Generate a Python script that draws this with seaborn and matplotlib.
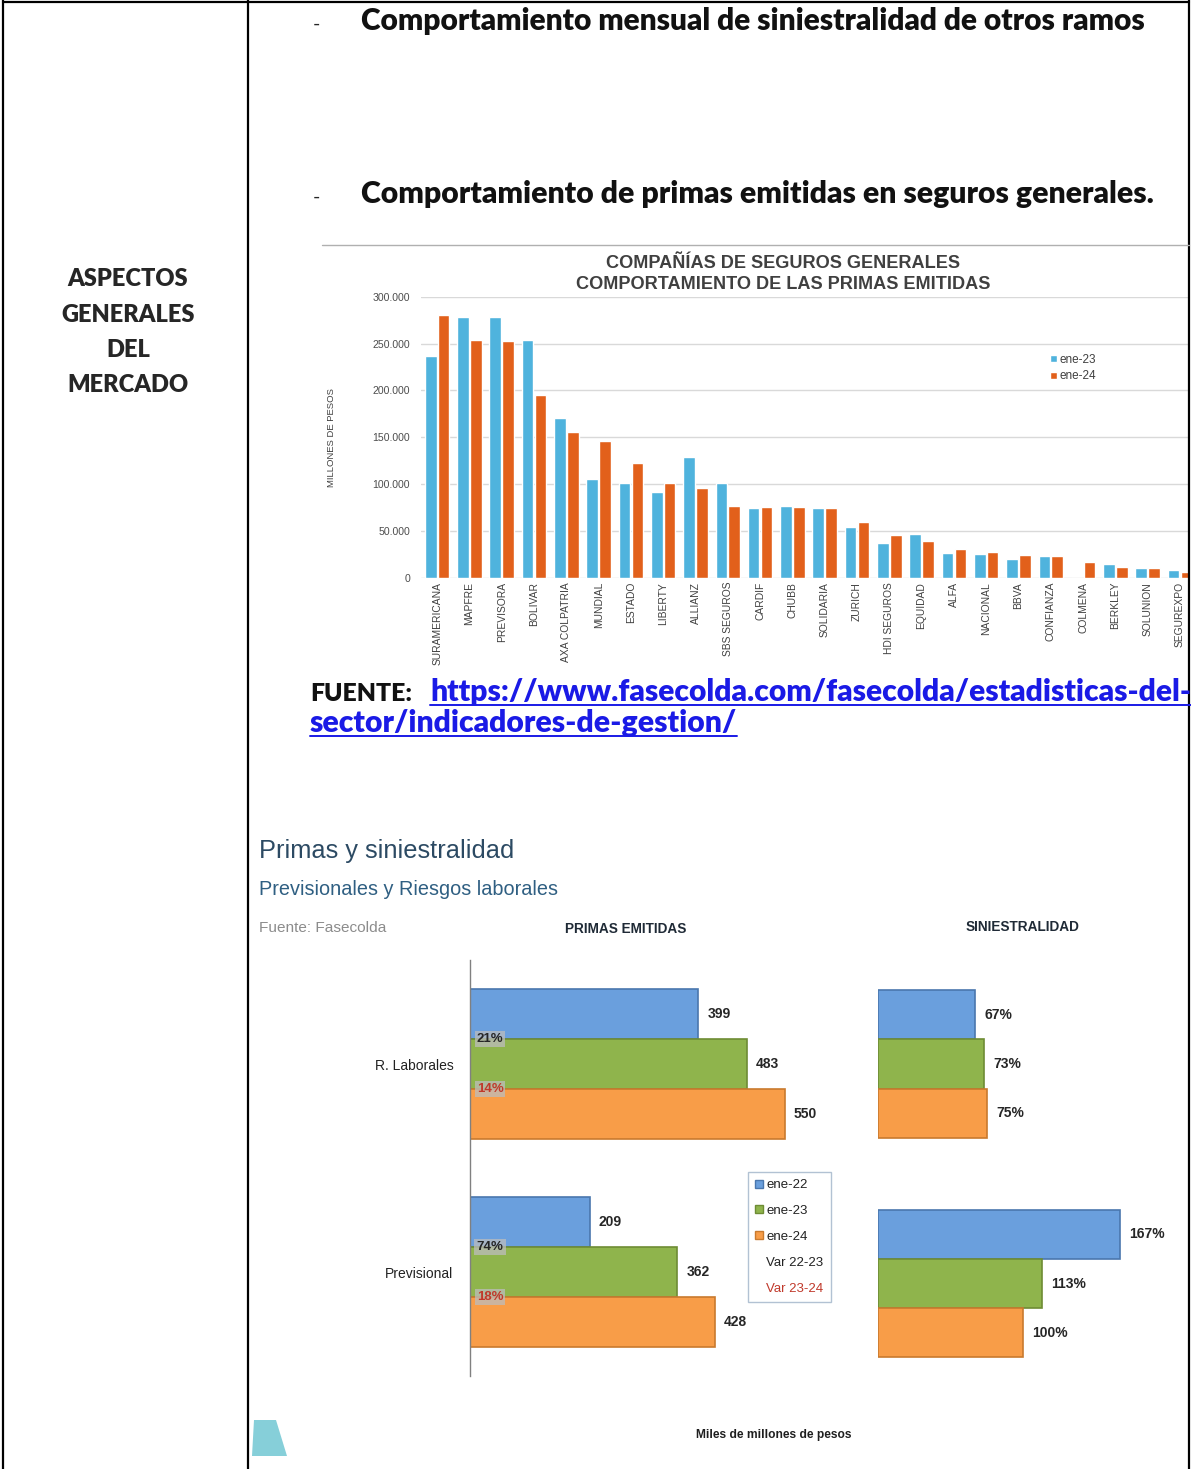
import numpy as np
import pandas as pd
import matplotlib
import matplotlib.pyplot as plt
import seaborn as sns
from matplotlib import font_manager as fm
from matplotlib.lines import Line2D
from matplotlib.patches import Patch, Polygon

W, H = 1191, 1469

# datos grafico 1: primas emitidas seguros generales (millones de pesos)
companias = ['SURAMERICANA', 'MAPFRE', 'PREVISORA', 'BOLIVAR', 'AXA COLPATRIA',
             'MUNDIAL', 'ESTADO', 'LIBERTY', 'ALLIANZ', 'SBS SEGUROS', 'CARDIF',
             'CHUBB', 'SOLIDARIA', 'ZURICH', 'HDI SEGUROS', 'EQUIDAD', 'ALFA',
             'NACIONAL', 'BBVA', 'CONFIANZA', 'COLMENA', 'BERKLEY', 'SOLUNION',
             'SEGUREXPO']
primas_ene23 = [236700, 278600, 278600, 253700, 171000, 105000, 100700, 91500,
                128800, 100700, 74700, 76500, 74700, 53700, 36700, 46300, 26700,
                25000, 20000, 23500, 0, 15000, 10700, 8200]
primas_ene24 = [280000, 254000, 252700, 195000, 156000, 146000, 122800, 100700,
                95400, 76500, 75800, 75800, 74700, 59800, 45600, 39000, 30600,
                27400, 23800, 23500, 16400, 11700, 10000, 5700]

# datos grafico 2: previsionales y riesgos laborales
ramos = ['R. Laborales', 'Previsional']
periodos = ['ene-22', 'ene-23', 'ene-24']
primas_ene22_prev = [399, 209]
primas_ene23_prev = [483, 362]
primas_ene24_prev = [550, 428]
sini_ene22 = [67, 167]
sini_ene23 = [73, 113]
sini_ene24 = [75, 100]
var_22_23 = [21, 74]
var_23_24 = [14, 18]

sns.set_style('white')
nombres = {f.name for f in fm.fontManager.ttflist}
NARROW = 'Liberation Sans Narrow' if 'Liberation Sans Narrow' in nombres else 'Liberation Sans'
DOC = 'Lato' if 'Lato' in nombres else 'DejaVu Sans'
plt.rcParams['font.family'] = ['Liberation Sans', 'DejaVu Sans']

fig = plt.figure(figsize=(W / 100, H / 100), dpi=100)
renderer = fig.canvas.get_renderer()


def px_axes(x0, y0, x1, y1):
    return fig.add_axes([x0 / W, 1 - y1 / H, (x1 - x0) / W, (y1 - y0) / H])


def put(x, y, s, width=None, **kw):
    kw.setdefault('va', 'baseline')
    t = fig.text(x / W, 1 - y / H, s, **kw)
    if width:
        w = t.get_window_extent(renderer).width
        t.set_fontsize(t.get_fontsize() * width / w)
    return t


def hline(x0, x1, y, **kw):
    fig.add_artist(Line2D([x0 / W, x1 / W], [1 - y / H, 1 - y / H], **kw))


def vline(x, y0, y1, **kw):
    fig.add_artist(Line2D([x / W, x / W], [1 - y0 / H, 1 - y1 / H], **kw))


# bordes de la tabla
vline(3, 0, H, color='black', lw=1.6)
vline(248, 0, H, color='black', lw=1.6)
vline(1189, 0, H, color='black', lw=1.6)
hline(3, 1189, 2, color='black', lw=1.6)

# columna izquierda
fs_col = None
for txt, yb in zip(['GENERALES', 'ASPECTOS', 'DEL', 'MERCADO'], [322, 286, 357, 392]):
    if fs_col is None:
        t = put(128, yb, txt, width=134, fontsize=16, family=DOC, weight='heavy', ha='center')
        fs_col = t.get_fontsize()
    else:
        put(128, yb, txt, fontsize=fs_col, family=DOC, weight='heavy', ha='center')

# encabezados
put(313, 30, '-', fontsize=14, family=DOC)
put(361, 30, 'Comportamiento mensual de siniestralidad de otros ramos', width=782,
    fontsize=18, family=DOC, weight='heavy', color='#111111')
put(313, 203, '-', fontsize=14, family=DOC)
put(361, 203, 'Comportamiento de primas emitidas en seguros generales.', width=792,
    fontsize=18, family=DOC, weight='heavy', color='#111111')

# grafico 1
hline(322, 1189, 245, color='#B0B0B0', lw=1)
put(783, 268, 'COMPAÑÍAS DE SEGUROS GENERALES', width=353, fontsize=12,
    family='Liberation Sans', weight='bold', color='#404040', ha='center')
put(783, 289, 'COMPORTAMIENTO DE LAS PRIMAS EMITIDAS', width=413, fontsize=12,
    family='Liberation Sans', weight='bold', color='#404040', ha='center')

df1 = pd.DataFrame({
    'compania': companias * 2,
    'valor': primas_ene23 + primas_ene24,
    'periodo': ['ene-23'] * len(companias) + ['ene-24'] * len(companias),
})
ax1 = px_axes(421, 296.7, 1189, 577.7)
sns.barplot(data=df1, x='compania', y='valor', hue='periodo', ax=ax1,
            palette=['#4FB3DD', '#E2601B'], width=0.8, gap=0.1, saturation=1)
ax1.set_ylim(0, 300000)
ax1.set_xlim(-0.5, 23.28)
ax1.set_yticks(np.arange(0, 300001, 50000))
ax1.set_yticklabels([f'{int(v):,}'.replace(',', '.') for v in np.arange(0, 300001, 50000)],
                    fontsize=7.6, color='#4D4D4D')
ax1.tick_params(axis='x', labelrotation=90, labelsize=7.4, labelcolor='#404040', pad=3, length=0)
ax1.tick_params(axis='y', length=0, pad=8)
ax1.grid(axis='y', color='#D9D9D9', lw=1)
ax1.set_axisbelow(True)
for s in ax1.spines.values():
    s.set_visible(False)
ax1.set_xlabel('')
ax1.set_ylabel('MILLONES DE PESOS', fontsize=6.8, color='#404040', labelpad=26)
ax1.legend(loc='upper left', bbox_to_anchor=(1045 / W, 1 - 349 / H),
           bbox_transform=fig.transFigure, frameon=False, fontsize=8.5,
           handlelength=0.6, handleheight=0.6, handletextpad=0.2,
           labelspacing=0.4, borderaxespad=0, labelcolor='#404040')

# FUENTE
put(310, 701, 'FUENTE:', width=102, fontsize=16, family=DOC, weight='heavy', color='#111111')
enlaces = [(430, 701, 'https://www.fasecolda.com/fasecolda/estadisticas-del-', 760),
           (310, 732, 'sector/indicadores-de-gestion/', 426)]
for x, y, s, w in enlaces:
    t = put(x, y, s, width=w, fontsize=16, family=DOC, weight='heavy', color='#1A1AE6')
    bb = t.get_window_extent(renderer)
    hline(bb.x0, bb.x1, y + 4, color='#1A1AE6', lw=1.4)

# grafico 2
put(259, 858, 'Primas y siniestralidad', width=254, fontsize=20, family=NARROW, color='#2C4A63')
put(259, 895, 'Previsionales y Riesgos laborales', width=297, fontsize=15, family=NARROW,
    color='#2F5F82')
put(259, 932, 'Fuente: Fasecolda', width=128, fontsize=12, family=NARROW, color='#8C8C8C')
put(626, 933, 'PRIMAS EMITIDAS', width=121, fontsize=10, family=NARROW, weight='bold',
    color='#1F2A36', ha='center')
put(1022, 931, 'SINIESTRALIDAD', width=113, fontsize=10, family=NARROW, weight='bold',
    color='#1F2A36', ha='center')

colores = ['#6A9FDD', '#8FB44C', '#F89D48']
bordes = ['#4A77AE', '#6E8C34', '#C97A2E']

df2 = pd.DataFrame({
    'ramo': ramos * 3,
    'primas': primas_ene22_prev + primas_ene23_prev + primas_ene24_prev,
    'sini': sini_ene22 + sini_ene23 + sini_ene24,
    'periodo': [p for p in periodos for _ in ramos],
})

ax2 = px_axes(470, 960, 850, 1376)
sns.barplot(data=df2, y='ramo', x='primas', hue='periodo', orient='h', ax=ax2,
            palette=colores, width=0.72, saturation=1, legend=False)
ax2.set_xlim(0, 380 / 0.5725)
ax2.set_ylim(1.5, -0.5)
for s in ['top', 'right', 'bottom']:
    ax2.spines[s].set_visible(False)
ax2.spines['left'].set_color('#808080')
ax2.spines['left'].set_linewidth(1)
ax2.set_xticks([])
ax2.set_xlabel('')
ax2.set_ylabel('')
ax2.tick_params(axis='y', length=0, pad=12)
for lab in ax2.get_yticklabels():
    lab.set_fontfamily(NARROW)
    lab.set_fontsize(10)
    lab.set_color('#222222')

ax3 = px_axes(878, 954.25, 1180, 1393.25)
sns.barplot(data=df2, y='ramo', x='sini', hue='periodo', orient='h', ax=ax3,
            palette=colores, width=0.67, saturation=1, legend=False)
ax3.set_xlim(0, 302 / 1.452)
ax3.set_ylim(1.5, -0.5)
ax3.axis('off')

for ax, fmt in [(ax2, '{:.0f}'), (ax3, '{:.0f}%')]:
    for i, cont in enumerate(ax.containers):
        for bar in cont:
            bar.set_edgecolor(bordes[i])
            bar.set_linewidth(1.2)
            ax.annotate(fmt.format(bar.get_width()),
                        (bar.get_width(), bar.get_y() + bar.get_height() / 2),
                        xytext=(9, 0), textcoords='offset pixels', va='center',
                        fontsize=10, family=NARROW, weight='bold', color='#262626')

# variaciones sobre las barras
for cont, vals, col in [(ax2.containers[1], var_22_23, '#262626'),
                        (ax2.containers[2], var_23_24, '#C0392B')]:
    for bar, v in zip(cont, vals):
        ax2.annotate(f'{v}%', (0, bar.get_y()), xytext=(20, 0),
                     textcoords='offset pixels', ha='center', va='center',
                     fontsize=9.5, family=NARROW, weight='bold', color=col,
                     bbox=dict(facecolor='#BDBDBD', edgecolor='none', alpha=0.75, pad=1.5))

handles = [Patch(facecolor=c, edgecolor=b) for c, b in zip(colores, bordes)]
handles += [Patch(visible=False), Patch(visible=False)]
leg = fig.legend(handles, periodos + ['Var 22-23', 'Var 23-24'], loc='upper left',
                 bbox_to_anchor=(748 / W, 1 - 1172 / H), bbox_transform=fig.transFigure,
                 borderaxespad=0, handlelength=0.55, handleheight=0.55,
                 handletextpad=0.3, labelspacing=1.05, borderpad=0.55,
                 prop={'family': NARROW, 'size': 9.5}, frameon=True, fancybox=False)
leg.get_frame().set_edgecolor('#9FB3C8')
leg.get_frame().set_linewidth(1)
for t, c in zip(leg.get_texts(), ['#222222'] * 4 + ['#C0392B']):
    t.set_color(c)

put(774, 1438, 'Miles de millones de pesos', width=155, fontsize=9, family=NARROW,
    weight='bold', color='#1F1F1F', ha='center')

# logo
logo = [(254, 1420), (276, 1420), (287, 1456), (252, 1456)]
fig.add_artist(Polygon([(x / W, 1 - y / H) for x, y in logo], closed=True,
                       facecolor='#86CFD9', edgecolor='none'))

fig.savefig('out.png', dpi=100)
